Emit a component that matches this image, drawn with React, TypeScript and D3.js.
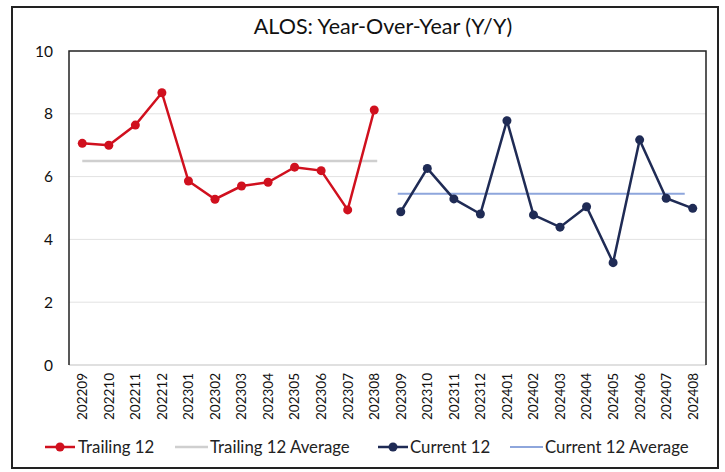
import React from "react";
import * as d3 from "d3";

const categories = [
  "202209","202210","202211","202212","202301","202302","202303","202304","202305","202306","202307","202308",
  "202309","202310","202311","202312","202401","202402","202403","202404","202405","202406","202407","202408",
];
const trailing12 = [7.06, 7.0, 7.64, 8.67, 5.86, 5.28, 5.7, 5.82, 6.3, 6.19, 4.94, 8.12];
const current12 = [4.88, 6.26, 5.29, 4.81, 7.78, 4.78, 4.39, 5.04, 3.26, 7.17, 5.31, 4.99];
const trailing12Average = 6.5;
const current12Average = 5.45;
const yTicks = [0, 2, 4, 6, 8, 10];
const title = "ALOS: Year-Over-Year (Y/Y)";
const legendItems = ["Trailing 12", "Trailing 12 Average", "Current 12", "Current 12 Average"];

const W = 725, H = 472;
const left = 69, right = 706, top = 51, bottom = 365;
const RED = "#d0101e";
const NAVY = "#1f2b55";
const GRAY_AVG = "#cfcfcf";
const BLUE_AVG = "#8ea6dc";
const FONT = "Lato, 'Open Sans', sans-serif";

export default function App() {
  const x = d3.scaleBand<string>().domain(categories).range([left, right]).padding(0);
  const y = d3.scaleLinear().domain([0, 10]).range([bottom, top]);
  const cx = (c: string) => (x(c) as number) + x.bandwidth() / 2;

  const trailCats = categories.slice(0, 12);
  const curCats = categories.slice(12);
  const line = d3.line<[string, number]>().x((d) => cx(d[0])).y((d) => y(d[1]));
  const trailData: [string, number][] = trailCats.map((c, i) => [c, trailing12[i]]);
  const curData: [string, number][] = curCats.map((c, i) => [c, current12[i]]);

  return (
    <svg width={W} height={H} style={{ position: "absolute", left: 0, top: 0, display: "block" }}>
      <rect x={0} y={0} width={W} height={H} fill="#fff" />
      <rect x={12} y={7} width={706} height={461} fill="none" stroke="#222" strokeWidth={2} />
      <text x={383} y={34} textAnchor="middle" fontFamily={FONT} fontSize={21.5} fill="#111">{title}</text>

      {yTicks.filter((t) => t > 0 && t < 10).map((t) => (
        <line key={t} x1={left} x2={right} y1={y(t)} y2={y(t)} stroke="#e2e2e2" strokeWidth={1} />
      ))}
      <line x1={left} x2={right} y1={y(0)} y2={y(0)} stroke="#d6d6d6" strokeWidth={1.5} />
      <path d={`M${left},${y(0)} V${y(10)} H${right} V${y(0)}`} fill="none" stroke="#222" strokeWidth={1.5} />

      {yTicks.map((t) => (
        <text key={t} x={53} y={y(t)} dy="0.36em" textAnchor="end" fontFamily={FONT} fontSize={15.5} fill="#111">{t}</text>
      ))}

      {categories.map((c) => (
        <text key={c} transform={`translate(${cx(c)},${bottom + 8}) rotate(-90)`} textAnchor="end" dy="0.36em"
          fontFamily={FONT} fontSize={13.5} fill="#111">{c}</text>
      ))}

      <line x1={cx(trailCats[0])} x2={cx(trailCats[11]) + 3} y1={y(trailing12Average)} y2={y(trailing12Average)} stroke={GRAY_AVG} strokeWidth={2.5} />
      <line x1={cx(curCats[0]) - 3} x2={cx(curCats[11]) - 8} y1={y(current12Average)} y2={y(current12Average)} stroke={BLUE_AVG} strokeWidth={2} />

      <path d={line(trailData) || ""} fill="none" stroke={RED} strokeWidth={2.5} />
      {trailData.map((d) => <circle key={d[0]} cx={cx(d[0])} cy={y(d[1])} r={4.5} fill={RED} />)}
      <path d={line(curData) || ""} fill="none" stroke={NAVY} strokeWidth={2.5} />
      {curData.map((d) => <circle key={d[0]} cx={cx(d[0])} cy={y(d[1])} r={4.5} fill={NAVY} />)}

      <g fontFamily={FONT} fontSize={16.8} fill="#222">
        <line x1={45} x2={75} y1={447} y2={447} stroke={RED} strokeWidth={2.5} />
        <circle cx={60} cy={447} r={4.5} fill={RED} />
        <text x={78} y={447} dy="0.36em">{legendItems[0]}</text>
        <line x1={175} x2={208} y1={447} y2={447} stroke={GRAY_AVG} strokeWidth={2.5} />
        <text x={210} y={447} dy="0.36em">{legendItems[1]}</text>
        <line x1={378} x2={408} y1={447} y2={447} stroke={NAVY} strokeWidth={2.5} />
        <circle cx={393} cy={447} r={4.5} fill={NAVY} />
        <text x={410} y={447} dy="0.36em">{legendItems[2]}</text>
        <line x1={510} x2={543} y1={447} y2={447} stroke={BLUE_AVG} strokeWidth={2} />
        <text x={545} y={447} dy="0.36em">{legendItems[3]}</text>
      </g>
    </svg>
  );
}
